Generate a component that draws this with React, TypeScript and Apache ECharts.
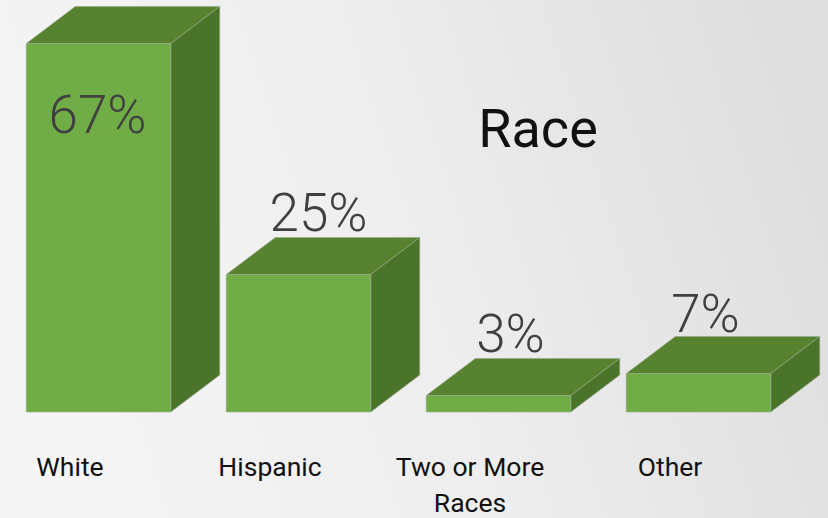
import React, { useEffect, useRef } from "react";
import * as echarts from "echarts";

const categories = ["White", "Hispanic", "Two or More\nRaces", "Other"];
const values = [67, 25, 3, 7];
const titleText = "Race";

const labelOffsets = [
  [-1, 71],
  [20, -62],
  [12, -62],
  [7, -60],
];

export default function App() {
  const ref = useRef<HTMLDivElement>(null);
  useEffect(() => {
    document.body.style.margin = "0";
    const chart = echarts.init(ref.current!, undefined, { renderer: "svg" });
    chart.setOption({
      animation: false,
      backgroundColor: {
        type: "linear",
        x: 0,
        y: 0.6,
        x2: 1,
        y2: 0.4,
        colorStops: [
          { offset: 0, color: "#f5f5f5" },
          { offset: 0.5, color: "#eeeeee" },
          { offset: 1, color: "#dedede" },
        ],
      },
      title: {
        text: titleText,
        left: 533,
        top: 123,
        textAlign: "center",
        textVerticalAlign: "middle",
        textStyle: { fontFamily: "Roboto", fontSize: 54, fontWeight: 400, color: "#111111" },
      },
      grid: { left: -30, width: 800, top: 27, height: 385, containLabel: false, outerBoundsMode: "none" },
      xAxis: {
        type: "category",
        data: categories,
        axisLine: { show: false },
        axisTick: { show: false },
        axisLabel: {
          interval: 0,
          margin: 36,
          fontFamily: "Roboto",
          fontSize: 26.5,
          lineHeight: 36,
          color: "#111111",
        },
      },
      yAxis: { type: "value", min: 0, max: 70, show: false },
      series: [
        {
          type: "custom",
          clip: false,
          data: values.map((v, i) => [i, v]),
          encode: { x: 0, y: 1 },
          renderItem: (params: any, api: any) => {
            const i = params.dataIndex;
            const v = api.value(1);
            const base = api.coord([api.value(0), 0]);
            const top = api.coord([api.value(0), v]);
            const band = api.size([1, 0])[0];
            const w = band * 0.7225;
            const x0 = base[0] + band * 0.1425 - w / 2;
            const x1 = x0 + w;
            const dx = 49;
            const dy = 37;
            const edge = { stroke: "#9aa88f", lineWidth: 0.6 };
            const off = labelOffsets[i];
            return {
              type: "group",
              children: [
                {
                  type: "polygon",
                  shape: { points: [[x0, top[1]], [x1, top[1]], [x1 + dx, top[1] - dy], [x0 + dx, top[1] - dy]] },
                  style: { fill: "#578331", ...edge },
                },
                {
                  type: "polygon",
                  shape: { points: [[x1, top[1]], [x1 + dx, top[1] - dy], [x1 + dx, base[1] - dy], [x1, base[1]]] },
                  style: { fill: "#4b742b", ...edge },
                },
                {
                  type: "rect",
                  shape: { x: x0, y: top[1], width: w, height: base[1] - top[1] },
                  style: { fill: "#70ad47", ...edge },
                },
                {
                  type: "text",
                  x: (x0 + x1) / 2 + off[0],
                  y: top[1] + off[1],
                  style: {
                    text: v + "%",
                    fontFamily: "Roboto",
                    fontWeight: 300,
                    fontSize: 53,
                    fill: "#404040",
                    align: "center",
                    verticalAlign: "middle",
                  },
                },
              ],
            };
          },
        },
      ],
    });
    return () => chart.dispose();
  }, []);
  return <div ref={ref} style={{ width: 828, height: 518 }} />;
}
